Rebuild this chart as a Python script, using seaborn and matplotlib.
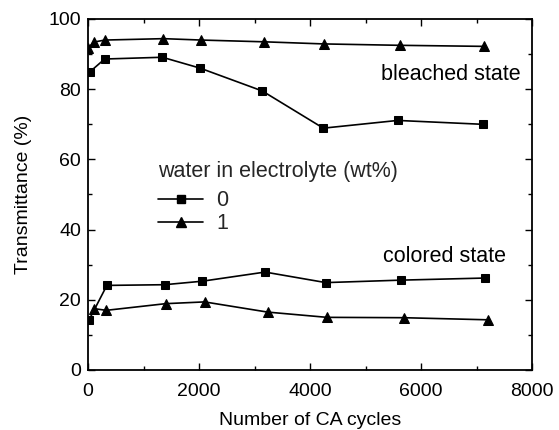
import numpy as np
import pandas as pd
import matplotlib
matplotlib.use("Agg")
import matplotlib.pyplot as plt
import seaborn as sns
from matplotlib.lines import Line2D
from matplotlib.ticker import MultipleLocator

sns.set_theme(style="ticks")
plt.rcParams['font.family'] = ['Liberation Sans', 'DejaVu Sans']

# bleached state
bl0_x = [30, 300, 1340, 2020, 3140, 4240, 5580, 7110]
bl0_y = [84.9, 88.6, 89.1, 86.0, 79.5, 68.9, 71.1, 70.0]
bl1_x = [0, 100, 300, 1360, 2045, 3175, 4245, 5625, 7140]
bl1_y = [91.6, 93.4, 94.0, 94.4, 94.0, 93.5, 92.9, 92.5, 92.2]
# colored state
co0_x = [20, 340, 1380, 2060, 3190, 4285, 5635, 7155]
co0_y = [14.3, 24.1, 24.3, 25.3, 27.9, 24.9, 25.6, 26.2]
co1_x = [100, 330, 1400, 2100, 3235, 4305, 5685, 7205]
co1_y = [17.5, 17.0, 18.9, 19.4, 16.5, 15.0, 14.9, 14.3]

water_labels = ["0", "1"]

fig = plt.figure(figsize=(5.59, 4.30), dpi=100)
ax = fig.add_axes([88/559, 1-370/430, (532-88)/559, (370-19)/430])

series = [(bl0_x, bl0_y, "s"), (bl1_x, bl1_y, "^"), (co0_x, co0_y, "s"), (co1_x, co1_y, "^")]
for xs, ys, m in series:
    df = pd.DataFrame({"x": xs, "y": ys})
    sns.lineplot(data=df, x="x", y="y", ax=ax, color="black", marker=m,
                 markersize=6 if m == "s" else 7, markeredgecolor="black",
                 linewidth=1.2, sort=False, estimator=None)

ax.set_xlim(0, 8000)
ax.set_ylim(0, 100)
ax.xaxis.set_major_locator(MultipleLocator(2000))
ax.xaxis.set_minor_locator(MultipleLocator(1000))
ax.yaxis.set_major_locator(MultipleLocator(20))
ax.yaxis.set_minor_locator(MultipleLocator(10))
ax.tick_params(which="both", direction="in", top=True, right=True, labelsize=14, colors="black")
ax.tick_params(which="major", length=5, width=1, pad=5)
ax.tick_params(axis="x", which="major", pad=9)
ax.tick_params(which="minor", length=3, width=1)
for s in ax.spines.values():
    s.set_color("black")
    s.set_linewidth(1.3)
ax.set_xlabel("Number of CA cycles", fontsize=14, color="black", labelpad=9)
ax.set_ylabel("Transmittance (%)", fontsize=14, color="black", labelpad=12)

ax.text(7800, 84.3, "bleached state", ha="right", va="center", fontsize=15.5, color="black")
ax.text(7530, 32.3, "colored state", ha="right", va="center", fontsize=15.5, color="black")

handles = [Line2D([], [], color="black", marker="s", markersize=6, linewidth=1.2),
           Line2D([], [], color="black", marker="^", markersize=7, linewidth=1.2)]
leg = ax.legend(handles, water_labels, title="water in electrolyte (wt%)",
                loc="upper left", bbox_to_anchor=(158/559, 1-161/430),
                bbox_transform=fig.transFigure, frameon=False, fontsize=15.5,
                title_fontsize=15.5, handlelength=2.1, handletextpad=0.6,
                labelspacing=0.1, borderpad=0.0, borderaxespad=0.0)
leg._legend_box.align = "left"
leg._legend_box.sep = 6

fig.savefig("out.png", dpi=100)
